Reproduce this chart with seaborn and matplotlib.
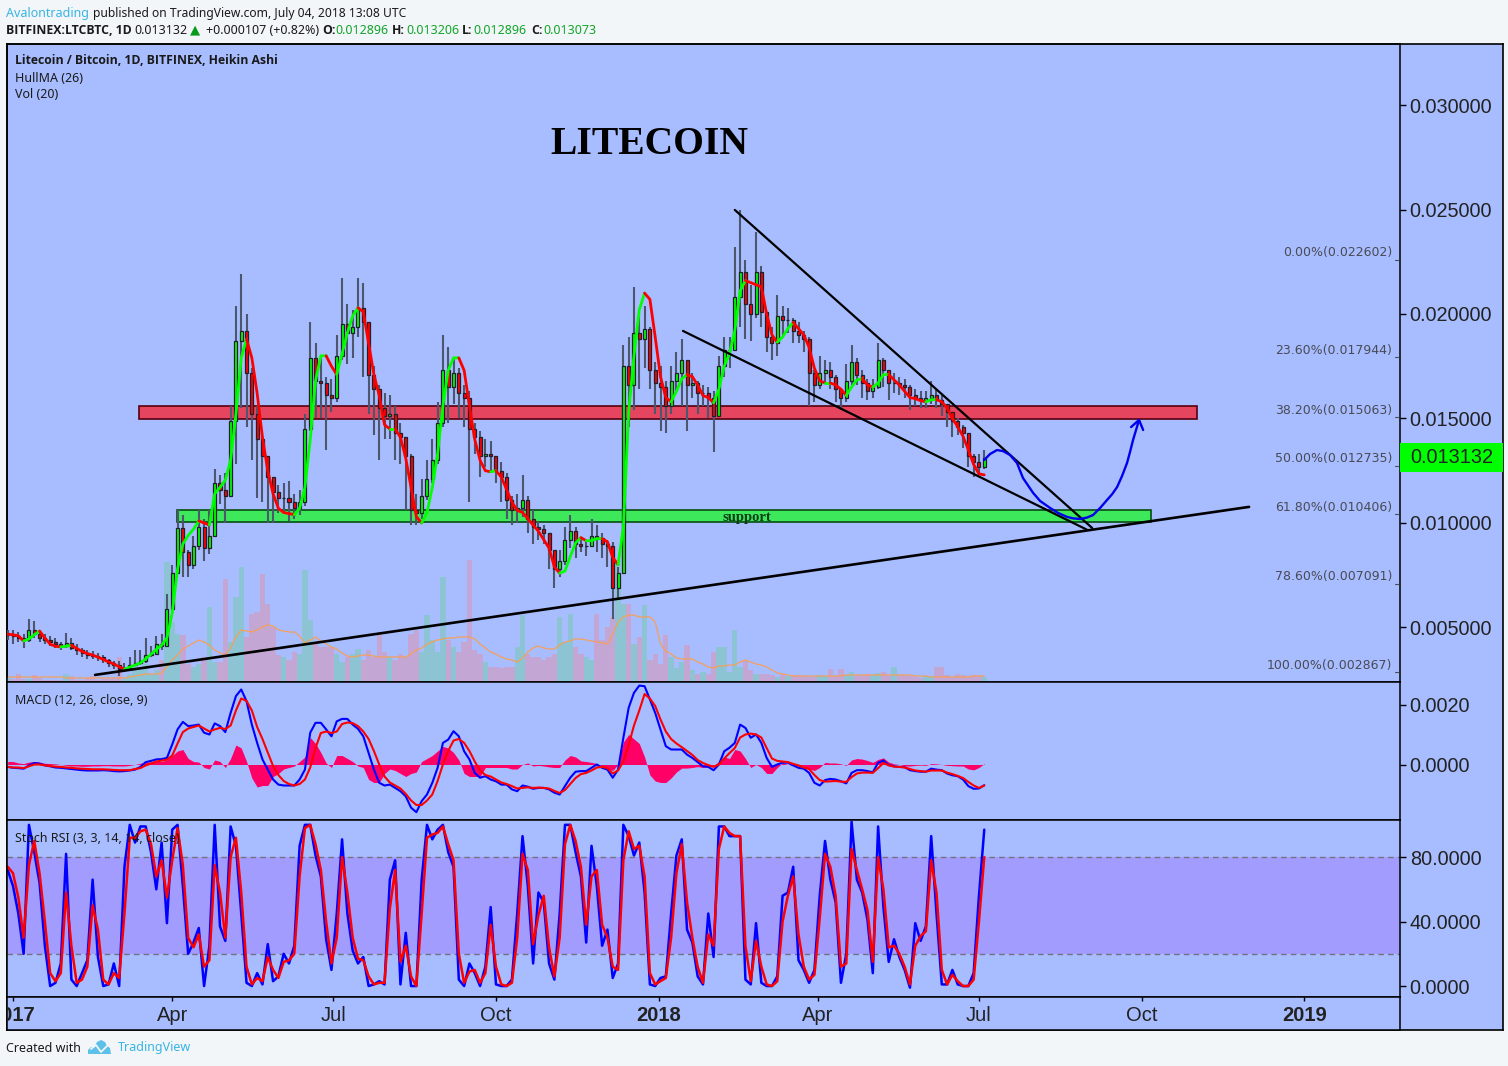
# LTC/BTC daily chart with MACD and Stoch RSI panes
import numpy as np
import pandas as pd
import matplotlib.pyplot as plt
from matplotlib.patches import Polygon, Rectangle
from matplotlib.transforms import blended_transform_factory
import seaborn as sns

W, H = 1508, 1066

# price values in 1/1000 BTC, one reading every 3 days from 2016-12-29
close = [4.65,4.6,4.5,4.4,4.9,4.7,4.5,4.4,4.3,4.2,4.1,4.25,4.0,3.9,3.8,3.7,3.65,3.6,3.45,3.3,3.2,
    3.0,3.05,3.2,3.3,3.4,3.7,3.75,4.2,4.1,5.9,7.6,9.75,8.6,8.0,8.9,9.8,8.8,9.4,11.9,11.6,
    11.3,14.9,18.7,19.2,17.2,15.2,14.0,13.2,12.2,11.5,11.2,11.2,11.0,10.7,11.0,14.5,17.9,16.8,16.7,16.1,
    16.0,18.0,19.5,19.1,19.4,20.3,19.6,17.1,16.4,15.5,15.1,15.2,14.3,14.1,13.2,10.6,10.5,11.3,12.1,13.0,
    14.8,17.3,16.5,17.2,16.2,16.0,14.5,14.1,13.2,13.3,13.2,12.5,12.2,11.1,10.6,10.7,11.1,10.2,9.8,9.7,
    9.5,8.7,7.8,8.2,9.2,9.6,9.0,8.9,8.9,9.4,9.3,9.0,8.9,6.9,7.6,17.5,16.6,19.1,18.8,19.3,
    17.3,16.7,16.5,15.6,16.8,17.2,17.8,16.6,16.7,16.2,16.2,16.0,15.1,17.5,18.3,18.3,20.8,22.0,20.5,20.0,
    22.0,20.1,18.9,18.6,19.9,19.7,19.7,19.2,19.0,18.8,17.2,16.6,17.2,17.3,17.0,16.4,16.0,16.8,17.7,17.1,
    16.7,16.3,16.5,17.8,17.3,16.7,16.7,16.6,16.5,16.1,16.0,15.9,16.0,16.1,15.9,15.7,15.3,14.9,14.6,14.3,
    13.2,12.9,12.7,13.132]
high = [4.9,4.9,4.8,4.7,5.4,5.3,4.9,4.7,4.6,4.5,4.3,4.75,4.5,4.2,4.0,3.9,3.85,3.8,3.7,3.5,3.4,
    3.4,3.3,3.6,3.9,3.9,4.5,4.1,4.6,4.7,6.6,8.0,10.6,10.4,8.7,9.4,10.6,10.2,10.6,12.6,12.3,
    12.4,15.6,20.4,21.9,20.0,17.4,15.6,14.3,13.2,12.2,11.8,11.9,12.0,11.4,11.6,15.2,19.6,18.6,17.9,17.0,
    16.9,19.0,21.7,20.5,20.2,21.7,21.5,19.6,17.5,16.6,16.2,16.1,15.6,14.8,14.0,13.3,11.4,12.1,13.0,14.0,
    15.8,19.0,18.4,17.9,17.4,16.6,16.3,14.8,14.4,14.0,13.9,13.2,12.9,12.4,11.3,11.4,12.3,11.3,10.6,10.1,
    9.9,9.5,8.4,8.7,9.8,10.4,9.8,9.3,9.2,10.2,9.9,9.5,9.2,9.1,7.9,18.5,18.9,21.3,20.0,20.4,
    19.4,17.7,17.5,16.8,17.5,18.2,18.8,17.5,17.2,16.8,16.6,16.5,16.3,18.0,18.9,18.9,23.2,25.0,22.6,21.4,
    23.9,22.3,20.0,19.4,20.9,20.4,20.3,19.8,19.6,19.2,18.9,17.3,18.0,17.8,17.7,17.1,16.4,17.6,18.5,17.9,
    17.3,16.9,16.9,18.6,17.9,17.2,17.2,17.0,16.9,16.6,16.4,16.3,16.3,16.8,16.4,16.1,15.7,15.3,15.0,14.7,
    14.3,13.3,13.3,13.5]
low = [4.4,4.2,4.3,4.0,4.3,4.5,4.3,4.2,4.1,4.0,3.9,4.0,3.9,3.7,3.6,3.5,3.5,3.4,3.3,3.1,3.0,
    2.7,2.9,3.0,3.2,3.2,3.3,3.6,3.8,3.9,4.1,5.8,7.6,7.4,7.4,7.8,8.7,8.2,8.5,9.4,10.9,
    10.0,11.3,12.8,15.5,14.6,13.0,11.2,11.0,10.0,10.0,10.5,10.5,10.1,10.2,10.4,10.8,14.4,15.0,15.0,13.5,
    15.3,15.8,17.8,17.6,17.9,18.9,17.0,15.2,14.2,13.0,14.0,14.0,13.0,12.8,10.6,9.9,9.9,10.2,11.1,11.9,
    12.8,14.6,14.8,15.7,15.0,14.6,11.0,13.3,12.2,12.7,12.5,11.9,11.0,10.2,9.9,10.0,10.3,9.5,9.0,9.2,
    9.0,7.8,6.9,7.4,8.0,8.8,8.3,8.6,8.4,8.9,8.6,8.3,7.9,5.4,6.3,8.0,14.6,15.4,16.4,17.4,
    16.4,15.2,14.4,14.3,15.2,16.3,15.6,14.4,16.0,15.2,15.6,15.0,13.4,15.1,17.0,17.4,18.4,19.4,18.8,18.7,
    19.8,19.4,18.2,17.8,18.0,19.0,19.1,18.6,18.6,18.2,15.6,15.8,16.4,16.7,16.4,15.8,15.4,15.8,16.6,16.6,
    16.0,15.9,16.0,16.4,16.5,15.9,16.2,16.1,16.0,15.4,15.6,15.5,15.5,15.7,15.5,15.1,14.6,14.1,14.2,13.6,
    12.7,12.2,12.3,12.6]
hull = [4.68,4.65,4.6,4.35,4.45,4.65,4.83,4.5,4.2,4.1,4.07,4.1,4.15,4.0,3.85,3.75,3.68,3.58,3.47,3.35,3.25,
    3.12,3.0,3.1,3.2,3.3,3.5,3.72,3.95,4.15,4.5,5.7,7.8,9.0,9.4,9.7,10.1,10.0,9.9,11.4,11.7,
    12.05,13.0,15.2,17.9,18.8,17.9,16.2,14.1,12.5,11.4,10.7,10.5,10.45,10.4,10.7,11.7,14.0,16.8,18.0,18.0,
    17.5,17.1,18.1,19.1,19.9,20.3,20.1,18.6,17.1,16.1,14.7,14.5,14.5,14.1,13.1,11.7,10.3,10.0,10.5,11.7,
    13.3,15.6,17.3,17.9,17.9,17.3,15.6,14.0,13.0,12.5,12.45,12.5,12.2,11.6,11.0,10.6,10.5,10.2,9.9,9.6,
    9.2,8.8,7.9,7.6,7.7,8.4,9.05,9.3,9.15,9.15,9.25,9.25,9.1,8.35,8.0,9.8,15.3,18.0,20.2,21.0,
    20.7,18.9,17.0,16.0,15.8,16.3,16.9,17.1,17.0,16.6,16.1,16.0,15.75,16.4,17.5,18.1,19.2,21.1,21.6,21.5,
    21.4,21.3,20.0,19.0,18.65,18.9,19.3,19.6,19.3,19.0,18.4,17.4,16.8,16.7,16.7,16.6,16.4,16.1,16.5,16.85,
    16.9,16.6,16.5,16.7,17.1,17.1,16.85,16.6,16.3,16.0,15.95,15.85,15.8,15.9,15.9,15.8,15.5,15.0,14.6,14.15,
    13.5,12.8,12.35,12.3]
volume = [4,3,8,3,3,7,4,2,2,2,2,8,6,2,2,4,6,2,3,3,3,
    25,5,8,15,15,18,8,12,22,120,60,48,47,18,15,18,25,75,20,20,
    103,40,85,115,45,68,70,108,78,55,27,25,22,30,28,112,62,40,35,35,
    35,28,20,25,28,33,22,32,25,48,30,25,22,28,25,48,52,30,67,42,
    30,105,42,35,30,40,122,32,28,20,15,15,14,15,15,35,67,28,25,25,
    22,25,28,65,40,68,35,28,25,22,68,42,55,65,122,78,78,38,45,77,
    22,28,18,47,25,14,20,37,12,8,10,8,30,35,35,10,52,15,22,12,
    8,8,8,7,5,7,6,7,7,6,5,5,7,6,13,6,13,7,10,6,
    7,8,7,9,10,6,15,7,7,6,5,4,6,6,15,15,7,5,8,7,
    6,7,6,5]
volume_ma = [5,5,5,5,5,5,5,5,5,5,5,4,4,4,4,4,4,4,4,4,4,
    4,4,5,6,7,8,8,8,9,15,22,27,33,36,39,42,40,37,32,29,
    27,34,45,52,51,50,52,55,57,56,52,51,50,50,46,39,42,45,41,38,
    35,33,29,26,25,26,27,27,26,25,25,25,25,25,25,28,32,34,38,40,
    42,43,44,44,45,45,45,43,38,34,30,28,25,23,22,20,24,30,34,36,
    34,33,33,37,40,41,43,43,42,41,40,39,38,48,60,65,67,67,65,65,
    65,60,38,31,28,24,23,23,23,20,18,15,14,16,16,17,17,20,22,20,
    18,17,15,12,9,8,7,6,6,6,6,6,6,6,6,6,6,7,7,7,
    7,7,7,7,7,7,7,7,7,7,6,6,6,5,5,5,5,5,5,5,
    5,6,6,6]

# MACD pane in 1/1000
macd = [-.08,-.11,-.12,-.14,-.03,.05,.03,-.03,-.06,-.1,-.11,-.13,-.15,-.17,-.19,-.2,-.2,-.2,-.19,-.2,-.22,
    -.23,-.22,-.2,-.17,-.08,.08,.12,.17,.18,.22,.67,1.17,1.42,1.28,1.3,1.33,1.06,1.0,1.37,1.28,
    1.08,1.72,2.28,2.5,2.11,1.33,.72,.17,-.17,-.5,-.67,-.7,-.7,-.7,-.5,-.17,1.06,1.39,1.39,1.17,
    .94,1.44,1.52,1.52,1.33,1.19,.94,.39,-.17,-.61,-.7,-.67,-.78,-.89,-1.06,-1.44,-1.59,-1.22,-1.0,-.61,
    -.11,.72,.83,1.11,.94,.44,.17,-.28,-.44,-.39,-.5,-.56,-.67,-.67,-.83,-.89,-.7,-.74,-.81,-.78,
    -.78,-.83,-.94,-1.0,-.72,-.44,-.24,-.22,-.22,-.11,0,-.11,-.17,-.44,-.17,.89,1.89,2.39,2.63,2.61,
    2.17,1.72,1.17,.61,.5,.5,.5,.33,.22,.08,-.06,-.08,-.19,0,.44,.56,.72,1.33,1.22,.89,
    1.0,.72,.22,-.08,0,.06,.06,-.03,-.11,-.14,-.28,-.61,-.7,-.52,-.48,-.5,-.56,-.63,-.28,-.19,
    -.19,-.22,-.26,.06,.13,-.02,-.06,-.08,-.09,-.19,-.22,-.24,-.24,-.14,-.17,-.19,-.3,-.36,-.39,-.5,
    -.72,-.81,-.8,-.69]
signal = [-.08,-.1,-.1,-.12,-.06,0,0,-.03,-.05,-.07,-.08,-.1,-.11,-.13,-.14,-.15,-.16,-.16,-.16,-.17,-.18,
    -.19,-.19,-.19,-.15,-.12,-.03,.03,.1,.13,.16,.3,.7,1.08,1.2,1.25,1.3,1.2,1.1,1.17,1.22,
    1.18,1.3,1.8,2.2,2.12,1.8,1.25,.85,.4,-.05,-.35,-.55,-.65,-.7,-.65,-.5,-.1,.55,1.05,1.1,
    1.05,1.1,1.35,1.4,1.38,1.28,1.1,.85,.45,0,-.4,-.6,-.7,-.8,-.98,-1.2,-1.35,-1.35,-1.2,-1.0,
    -.55,0,.45,.8,.85,.72,.45,.1,-.2,-.35,-.4,-.5,-.6,-.65,-.72,-.8,-.78,-.76,-.78,-.77,
    -.78,-.8,-.88,-.95,-.85,-.65,-.45,-.32,-.28,-.2,-.1,-.08,-.12,-.3,-.2,.1,.65,1.3,1.8,2.35,
    2.2,1.95,1.5,1.1,.85,.7,.58,.45,.32,.15,.05,-.02,-.08,0,.2,.38,.55,.9,1.0,1.03,
    1.0,.9,.55,.2,.12,.1,.08,.02,-.03,-.1,-.15,-.35,-.52,-.57,-.56,-.55,-.57,-.58,-.42,-.3,
    -.27,-.27,-.28,-.12,.05,-.03,-.07,-.08,-.1,-.15,-.2,-.22,-.24,-.2,-.2,-.2,-.27,-.32,-.38,-.45,
    -.58,-.7,-.78,-.7]
hist = [.1,.1,.05,.03,.08,.1,.08,.04,.03,.02,0,-.03,-.05,-.05,-.06,-.06,-.05,-.05,-.04,-.04,-.05,
    -.05,-.05,-.03,0,.04,.08,.09,.1,.1,.15,.3,.45,.5,.2,.1,.08,-.1,-.15,.15,.1,
    -.1,.2,.65,.55,.1,-.45,-.75,-.7,-.7,-.4,-.3,-.15,-.1,-.05,.1,.25,.9,.7,.4,.05,
    -.1,.3,.3,.2,.1,-.05,-.1,-.5,-.6,-.6,-.3,-.15,-.2,-.3,-.4,-.3,-.25,.1,.2,.3,
    .45,.6,.55,.4,.15,-.3,-.4,-.4,-.4,-.1,-.1,-.1,-.1,-.1,-.15,-.15,0,.05,-.05,-.03,
    -.05,-.08,-.1,-.1,.15,.3,.25,.12,.1,.07,.03,-.05,-.15,-.2,0,.75,1.0,.85,.7,.25,
    -.35,-.55,-.6,-.6,-.45,-.25,-.12,-.12,-.1,-.07,-.1,-.08,-.03,.1,.25,.2,.5,.45,.2,-.1,
    0,-.1,-.3,-.3,-.1,.05,0,-.02,-.05,-.05,-.15,-.2,-.1,.07,.05,.05,.02,-.03,.15,.2,
    .18,.13,.07,.17,.22,.08,.02,0,-.05,-.05,-.03,-.02,-.03,.03,.02,0,-.03,-.04,-.05,-.05,
    -.15,-.18,-.1,.03]

# Stoch RSI pane
stoch_k = [72,62,45,20,100,83,64,25,0,2,14,82,4,0,8,16,66,18,0,1,14,
    0,74,100,89,99,99,83,60,89,39,97,100,62,20,27,36,0,25,100,37,
    28,99,87,45,2,0,8,1,26,3,6,20,14,25,87,100,100,81,68,29,
    10,45,91,45,22,14,18,0,1,3,1,66,78,1,33,0,0,66,100,91,
    97,100,83,74,4,0,14,8,0,12,49,1,0,0,4,45,93,62,14,58,
    52,14,4,45,100,100,83,68,27,87,62,25,35,5,14,100,93,81,89,58,
    1,0,5,6,45,81,91,35,27,6,1,45,18,99,99,93,93,93,4,1,
    39,2,0,0,6,56,58,74,16,10,2,10,56,90,66,52,2,20,102,66,
    58,41,8,99,49,15,29,18,10,-1,39,28,37,93,45,1,1,10,1,0,
    0,8,56,97]
stoch_d = [74,70,55,30,75,90,70,40,8,3,8,58,25,2,4,12,50,35,4,1,8,
    5,45,92,92,96,97,88,68,78,55,78,98,75,30,24,32,12,16,75,58,
    30,80,92,58,12,1,5,3,18,10,5,15,16,20,68,98,100,88,72,40,
    14,30,80,58,30,17,16,6,1,2,2,48,72,15,25,6,0,45,92,94,
    95,99,88,78,20,2,9,10,2,8,38,12,1,0,2,30,82,72,26,44,
    56,24,6,30,88,100,90,74,38,68,72,38,30,12,10,78,96,85,87,68,
    8,1,3,5,30,70,88,52,30,12,2,32,25,85,99,95,93,93,25,3,
    28,12,1,0,3,40,56,68,32,12,4,7,42,82,74,56,12,14,85,72,
    60,47,15,80,60,24,25,20,12,1,25,31,34,78,58,10,1,7,3,0,
    0,4,40,80]

fib_levels = [0.022602, 0.017944, 0.015063, 0.012735, 0.010406, 0.007091, 0.002867]
fib_labels = ['0.00%(0.022602)', '23.60%(0.017944)', '38.20%(0.015063)', '50.00%(0.012735)',
    '61.80%(0.010406)', '78.60%(0.007091)', '100.00%(0.002867)']

# hand drawn lines on the chart: days after 2017-01-01 and price in 1/1000
trend_long_days, trend_long_px = [46.4, 698.7], [2.73, 10.77]
wedge_top_days, wedge_top_px = [408, 610], [24.98, 9.76]
wedge_low_days, wedge_low_px = [378.7, 607], [19.19, 9.68]
path_days = [548.9, 552.3, 556.2, 559.6, 563.6, 567.5, 570.9, 576.6, 580.6, 586.2, 590.7, 595.8, 599.2, 603.2, 607.1, 610.5, 614.5, 618.4, 621.3, 624.1, 626.9, 629.7, 631.4, 633.1, 634.8, 636.5]
path_px = [13.01, 13.3, 13.49, 13.44, 13.25, 12.87, 12.15, 11.44, 11.05, 10.72, 10.48, 10.29, 10.22, 10.19, 10.26, 10.38, 10.72, 11.1, 11.38, 11.72, 12.25, 12.87, 13.4, 13.97, 14.45, 14.93]
head_days, head_px = [632, 636.5, 638.8], [14.59, 14.93, 14.45]

BG = '#f2f6f8'
PANE = '#a7bdff'
UP, DOWN = '#00ff00', '#ff0000'
BOLD_FONT = 'Open Sans'

sns.set_theme(style='white')
plt.rcParams['font.family'] = ['Noto Sans', 'DejaVu Sans']


def rect(x0, y0, x1, y1):
    return [x0 / W, 1 - y1 / H, (x1 - x0) / W, (y1 - y0) / H]


def put(x, y, s, **kw):
    kw.setdefault('fontsize', 9)
    kw.setdefault('color', '#1a1a1a')
    kw.setdefault('va', 'center')
    fig.text(x / W, 1 - y / H, s, **kw)


def when(days):
    return pd.Timestamp('2017-01-01') + pd.to_timedelta(days, unit='D')


df = pd.DataFrame({'close': close, 'high': high, 'low': low, 'hull': hull, 'volume': volume,
    'volume_ma': volume_ma, 'macd': macd, 'signal': signal, 'hist': hist,
    'stoch_k': stoch_k, 'stoch_d': stoch_d})
df['date'] = when((np.arange(len(df)) - 1) * 3)
df['open'] = df['close'].shift(1).fillna(df['close'])
rising = df['close'] >= df['open']

fig = plt.figure(figsize=(W / 100, H / 100), dpi=100, facecolor=BG)

# whole frame, the scale columns sit on top of it
ax_bg = fig.add_axes(rect(7, 44, 1503, 1030), facecolor=PANE)
ax_bg.set_xticks([])
ax_bg.set_yticks([])
for s in ax_bg.spines.values():
    s.set_linewidth(1.2)
    s.set_color('black')

ax_vol = fig.add_axes(rect(7, 44, 1400, 682), facecolor=PANE)
ax = fig.add_axes(rect(7, 44, 1400, 682), sharex=ax_vol)
ax.patch.set_visible(False)
ax_macd = fig.add_axes(rect(7, 682, 1400, 820), facecolor=PANE, sharex=ax_vol)
ax_stoch = fig.add_axes(rect(7, 820, 1400, 997), facecolor=PANE, sharex=ax_vol)
ax_time = fig.add_axes(rect(7, 997, 1400, 1030), facecolor=PANE, sharex=ax_vol)

# volume
ax_vol.bar(df['date'], df['volume'], width=3.0, color=np.where(rising, '#8cc4d4', '#c4a6d4'), linewidth=0)
sns.lineplot(data=df, x='date', y='volume_ma', ax=ax_vol, color='#f5a05a', linewidth=0.9, estimator=None, errorbar=None)
ax_vol.set_ylim(0, 638)
ax_vol.axis('off')

# zones under the candles
prices = df[['open', 'close', 'high', 'low', 'hull']] / 1000
ax.add_patch(Rectangle((when(71.2), 0.01498), pd.Timedelta(days=597.8), 0.00062, facecolor='#e5455e', edgecolor='#55000f', linewidth=1.2, zorder=2))
ax.add_patch(Rectangle((when(92.7), 0.01005), pd.Timedelta(days=550.3), 0.00057, facecolor='#3ee85b', edgecolor='#064d10', linewidth=1.2, zorder=2))

# candles
ax.vlines(df['date'], prices['low'], prices['high'], color='#4e566e', linewidth=1.5, zorder=3)
ax.bar(df['date'], (prices['close'] - prices['open']).abs(), bottom=prices[['open', 'close']].min(axis=1),
    width=1.7, color=np.where(rising, UP, DOWN), edgecolor='#20202c', linewidth=0.9, zorder=3.2)

# hull ma changes colour with its slope
up = np.diff(df['hull']) >= 0
start = 0
for k in range(1, len(up) + 1):
    if k == len(up) or up[k] != up[start]:
        seg = prices.assign(date=df['date']).iloc[start:k + 1]
        sns.lineplot(data=seg, x='date', y='hull', ax=ax, color=UP if up[start] else DOWN, linewidth=2.0,
            estimator=None, errorbar=None, zorder=3.5)
        start = k

for d, p, lw in [(trend_long_days, trend_long_px, 1.9), (wedge_top_days, wedge_top_px, 1.6), (wedge_low_days, wedge_low_px, 1.6)]:
    ax.plot(when(np.array(d)), np.array(p) / 1000, color='black', linewidth=lw, zorder=4)
ax.plot(when(np.array(path_days)), np.array(path_px) / 1000, color='#0000ee', linewidth=1.7, zorder=4.5)
ax.plot(when(np.array(head_days)), np.array(head_px) / 1000, color='#0000ee', linewidth=1.7, zorder=4.5)

ax.set_ylim(0.00239, 0.03292)
ax.set_yticks([0.005, 0.01, 0.015, 0.02, 0.025, 0.03])
ax.set_yticklabels(['0.005000', '0.010000', '0.015000', '0.020000', '0.025000', '0.030000'])

# fib labels, each with a small dash on its level
tr = blended_transform_factory(ax.transAxes, ax.transData)
for lev, lab in zip(fib_levels, fib_labels):
    ax.annotate(lab, xy=(0.99425, lev), xycoords=tr, xytext=(0, 5), textcoords='offset points', ha='right', va='center',
        fontsize=9, color='#4a4a55', family='DejaVu Sans', zorder=5)
    ax.plot([0.9965, 0.9985], [lev, lev], transform=tr, color='#4a4a55', linewidth=0.8)

# last price box in the scale column
ax.add_patch(Rectangle((1.0, 0.01244), 103 / 1393, 0.00139, transform=tr, facecolor='#00ff00', edgecolor='none', clip_on=False, zorder=6))
ax.text(1 + 10 / 1393, 0.013132, '0.013132', transform=tr, va='center', ha='left', fontsize=14.3, color='#222222', family='Liberation Sans', zorder=7)

# macd
ax_macd.fill_between(df['date'], np.array(hist) / 1000, 0, color='#ff0066', linewidth=0, zorder=1.5)
sns.lineplot(x=df['date'], y=df['macd'] / 1000, ax=ax_macd, color='#0000ff', linewidth=1.5, estimator=None, errorbar=None)
sns.lineplot(x=df['date'], y=df['signal'] / 1000, ax=ax_macd, color='#ff0000', linewidth=1.5, estimator=None, errorbar=None)
ax_macd.set_ylim(-0.00185, 0.00275)
ax_macd.set_yticks([0, 0.002])
ax_macd.set_yticklabels(['0.0000', '0.0020'])

# stoch rsi
ax_stoch.axhspan(20, 80, color='#a29cff', linewidth=0)
ax_stoch.axhline(80, color='#77707f', linewidth=1, dashes=(4, 3))
ax_stoch.axhline(20, color='#77707f', linewidth=1, dashes=(4, 3))
sns.lineplot(data=df, x='date', y='stoch_k', ax=ax_stoch, color='#0000ff', linewidth=1.8, estimator=None, errorbar=None)
sns.lineplot(data=df, x='date', y='stoch_d', ax=ax_stoch, color='#ff0000', linewidth=1.8, estimator=None, errorbar=None)
ax_stoch.set_ylim(-6.8, 103)
ax_stoch.set_yticks([0, 40, 80])
ax_stoch.set_yticklabels(['0.0000', '40.0000', '80.0000'])

for a in [ax, ax_macd, ax_stoch]:
    a.yaxis.tick_right()
    a.tick_params(axis='y', right=True, left=False, length=4, width=1, pad=3, color='black', labelsize=14.3, labelcolor='#222222')
    for lab in a.get_yticklabels():
        lab.set_family('Liberation Sans')
    a.tick_params(axis='x', bottom=False, top=False, labelbottom=False)
    a.set_xlabel('')
    a.set_ylabel('')

# time axis
tick_dates = pd.to_datetime(['2017-01-01', '2017-04-01', '2017-07-01', '2017-10-01', '2018-01-01',
    '2018-04-01', '2018-07-01', '2018-10-01', '2019-01-01'])
tick_names = ['2017', 'Apr', 'Jul', 'Oct', '2018', 'Apr', 'Jul', 'Oct', '2019']
ax_time.set_ylim(0, 1)
ax_time.set_yticks([])
ax_time.set_xticks(tick_dates)
ax_time.tick_params(axis='x', top=True, bottom=False, labelbottom=False, direction='in', length=3, width=1, color='black')
for d, name in zip(tick_dates, tick_names):
    ax_time.text(d, 0.45, name, ha='center', va='center', fontsize=14.5, color='#222222', family='Liberation Sans',
        fontweight='bold' if name.startswith('20') else 'normal', clip_on=True)
ax_time.set_xlabel('')

ax_vol.set_xlim(when(-3.4), when(784))

for a in [ax, ax_macd, ax_stoch, ax_time]:
    for s in a.spines.values():
        s.set_linewidth(1.1)
        s.set_color('black')

# texts
put(649, 144, 'LITECOIN', fontsize=28.5, fontweight='bold', family='Liberation Serif', color='black', ha='center', zorder=9)
put(747, 517, 'support', fontsize=10.5, fontweight='bold', family='Liberation Serif', color='#0a3d18', ha='center', zorder=9)
put(15, 61, 'Litecoin / Bitcoin, 1D, BITFINEX, Heikin Ashi', fontweight='bold', family=BOLD_FONT, fontsize=8.8, zorder=9)
put(15, 78, 'HullMA (26)', zorder=9)
put(15, 95, 'Vol (20)', zorder=9)
put(15, 700, 'MACD (12, 26, close, 9)', zorder=9)
put(15, 838, 'Stoch RSI (3, 3, 14, 14, close)', zorder=9)

put(6, 13, 'Avalontrading', color='#3bb3e4')
put(93, 13, 'published on TradingView.com, July 04, 2018 13:08 UTC', fontsize=8.7)
put(6, 30, 'BITFINEX:LTCBTC, 1D', fontweight='bold', family=BOLD_FONT, fontsize=8.8)
put(134, 30, '0.013132')
put(190, 30, '▲', color='#089a1c', family='DejaVu Sans', fontsize=9.5)
put(206, 30, '+0.000107 (+0.82%)')
green = '#12a52a'
for x_key, key, x_val, val in [(322, 'O:', 335, '0.012896'), (392, 'H:', 406, '0.013206'), (462, 'L:', 473.5, '0.012896'), (531.5, 'C:', 543, '0.013073')]:
    put(x_key, 30, key, fontweight='bold', family=BOLD_FONT, fontsize=8.8)
    put(x_val, 30, val, color=green)

put(6, 1048, 'Created with')
put(118, 1048, 'TradingView', color='#3bb3e4')

# logo
cloud = [(88, 1054), (88, 1050), (91, 1047), (94, 1047), (97, 1042), (101, 1040), (105, 1042), (107, 1046), (110, 1048), (111, 1054)]
fig.add_artist(Polygon([(x / W, 1 - y / H) for x, y in cloud], closed=True, transform=fig.transFigure, facecolor='#5cc0e8', edgecolor='none'))
fig.add_artist(plt.Line2D([x / W for x in (91, 96, 101, 107)], [1 - y / H for y in (1049, 1045, 1052, 1046)], color=BG, linewidth=1.3))

fig.savefig('out.png', dpi=100, facecolor=BG)
